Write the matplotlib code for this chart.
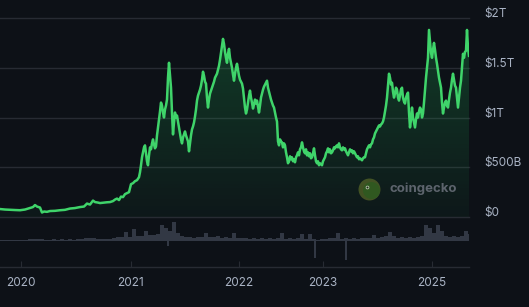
import numpy as np
import matplotlib
matplotlib.use("Agg")
import matplotlib.pyplot as plt
from matplotlib.colors import to_rgb
from matplotlib.transforms import blended_transform_factory, ScaledTranslation

# Market cap (billions of USD); x = position along the time axis
pos = [0, 5, 10, 15, 20, 25, 30, 33, 35, 37, 40, 42, 44, 47, 50, 55, 60, 65, 70, 75, 80, 84,
       87, 90, 93, 95, 98, 100, 104, 107, 110, 113, 115, 117, 119, 121, 123, 125, 127, 129,
       131, 133, 135, 137, 139] + list(range(140, 470))
mcap = [80, 75, 72, 70, 68, 75, 90, 100, 120, 105, 95, 45, 55, 52, 60, 62, 68, 72, 85, 90, 100, 105,
        135, 125, 165, 150, 145, 140, 145, 148, 150, 160, 175, 185, 170, 205, 200, 230, 240, 250,
        330, 340, 360, 370, 400,
        # 140 - 199
        450, 520, 600, 650, 700, 720, 640, 560, 520, 620, 700, 680, 740, 780, 730, 690, 710, 820, 900, 980,
        1060, 1150, 1120, 1050, 1000, 1080, 1120, 1180, 1400, 1550, 1420, 1300, 1050, 830, 950, 1050, 1000, 1020, 960, 900,
        840, 780, 740, 800, 830, 860, 820, 790, 760, 660, 740, 820, 880, 910, 950, 1010, 1080, 1170, 1220, 1250,
        # 200 - 259
        1280, 1320, 1380, 1460, 1420, 1360, 1340, 1200, 1100, 1180, 1240, 1270, 1300, 1330, 1360, 1400, 1420, 1440, 1480, 1520,
        1580, 1650, 1720, 1790, 1740, 1660, 1600, 1550, 1640, 1690, 1600, 1550, 1500, 1430, 1370, 1440, 1500, 1540, 1480, 1420,
        1380, 1360, 1340, 1290, 1200, 1100, 1040, 1080, 1150, 1220, 1270, 1200, 1150, 1090, 1130, 1180, 1140, 1170, 1110, 1050,
        # 260 - 319
        1120, 1200, 1240, 1280, 1310, 1330, 1350, 1370, 1300, 1260, 1220, 1180, 1150, 1120, 1100, 1050, 1000, 960, 760, 720,
        780, 760, 750, 700, 740, 720, 650, 600, 540, 560, 610, 580, 600, 560, 580, 550, 600, 620, 650, 620,
        680, 700, 750, 700, 660, 640, 680, 620, 650, 610, 640, 590, 600, 640, 690, 620, 560, 540, 560, 520,
        # 320 - 379
        540, 530, 520, 560, 580, 600, 640, 660, 690, 650, 680, 640, 650, 670, 700, 690, 710, 720, 700, 740,
        700, 680, 670, 700, 680, 690, 660, 640, 620, 650, 680, 660, 670, 640, 660, 640, 620, 600, 610, 580,
        590, 580, 570, 590, 600, 600, 640, 680, 700, 720, 700, 730, 740, 780, 800, 840, 860, 880, 900, 920,
        # 380 - 439
        910, 930, 940, 960, 1000, 1060, 1120, 1200, 1320, 1440, 1400, 1330, 1350, 1260, 1200, 1240, 1300, 1280, 1200, 1170,
        1220, 1280, 1300, 1200, 1160, 1140, 1200, 1230, 1250, 1050, 900, 980, 1100, 1000, 950, 900, 980, 1040, 1000, 1060,
        1100, 1080, 1000, 1040, 1150, 1280, 1400, 1500, 1600, 1880, 1760, 1650, 1600, 1680, 1750, 1680, 1600, 1540, 1470, 1400,
        # 440 - 469
        1350, 1300, 1150, 1040, 1100, 1150, 1170, 1120, 1100, 1180, 1250, 1300, 1380, 1440, 1380, 1320, 1300, 1200, 1100, 1200,
        1300, 1370, 1500, 1640, 1600, 1660, 1670, 1880, 1700, 1620]

# Volume strip (billions), every 4 positions
vol_pos = list(range(0, 469, 4))
vol = [5, 5, 5, 5, 5, 5, 5, 10, 10, 10, 10, 5,
       5, 10, 5, 10, 5, 10, 5, 10, 10, 15, 15, 15, 10,
       10, 10, 10, 15, 20, 20, 45, 20, 60, 25, 25, 50, 30, 30, 35, 80, 65, 50, 95, 40,
       25, 20, 20, 15, 20, 20, 40, 20, 20, 25, 15, 20, 15, 40, 15, 15, 15, 10, 15, 10,
       15, 10, 15, 10, 15, 40, 10, 15, 10, 15, 35, 10, 35, 10, 5, 10, 10, 15, 15, 40,
       10, 15, 10, 15, 10, 15, 15, 15, 30, 15, 20, 25, 45, 25, 15, 20, 15, 20, 15, 20,
       25, 80, 65, 40, 80, 50, 25, 20, 25, 20, 25, 50, 35]
dip_pos = [168, 315, 346]
dip = [-25, -85, -95]

years = ["2020", "2021", "2022", "2023", "2025"]
year_pos = [21, 131, 239, 323, 432]
mcap_ticks = [0, 500, 1000, 1500, 2000]
mcap_labels = ["$0", "$500B", "$1T", "$1.5T", "$2T"]

bg = "#0d1117"
grid = "#272b33"
text = "#a9b3c4"
green = "#3fd46a"

plt.rcParams["font.family"] = ["Inter", "DejaVu Sans"]

fig = plt.figure(figsize=(5.29, 3.07), dpi=100, facecolor=bg)
ax = fig.add_axes([0, 90 / 307, 469 / 529, 217 / 307])
axv = fig.add_axes([0, 40 / 307, 469 / 529, 50 / 307])
for a in (ax, axv):
    a.set_facecolor("none")
    for s in a.spines.values():
        s.set_visible(False)

# gradient fill under the line
n = 256
rgba = np.zeros((n, 1, 4))
rgba[..., :3] = to_rgb("#22c55e")
rgba[..., 3] = np.linspace(0.04, 0.24, n).reshape(-1, 1)
im = ax.imshow(rgba, extent=(0, pos[-1], 0, max(mcap)), origin="lower", aspect="auto", zorder=1)
poly = ax.fill_between(pos, mcap, 0, color="none", lw=0)
im.set_clip_path(poly.get_paths()[0], transform=ax.transData)

ax.plot(pos, mcap, color=green, lw=1.8, zorder=3, solid_joinstyle="round")

ax.set_xlim(0, 469)
ax.set_ylim(0, 2000 * 217 / 199)
ax.set_xticks([])
ax.set_yticks([])
for v in mcap_ticks:
    ax.axhline(v, color=grid, lw=1, zorder=0, clip_on=False)

tr = blended_transform_factory(ax.transAxes, ax.transData) + ScaledTranslation(0, 0.04, fig.dpi_scale_trans)
for v, lab in zip(mcap_ticks, mcap_labels):
    ax.text(484 / 469, v, lab, transform=tr, color=text, fontsize=8.5, va="center", ha="left")

# watermark
ax.scatter([369], [280], s=250, color="#66762a", alpha=0.6, zorder=2, lw=0)
ax.scatter([370.5], [272], s=150, color="#2d5a20", alpha=0.85, zorder=2, lw=0)
ax.scatter([366.5], [298], s=7, color="#d9e0cc", alpha=0.8, zorder=2, lw=0)
ax.scatter([366.8], [298], s=2, color="#1d2a14", zorder=2, lw=0)
ax.text(389, 280, "coingecko", color="#5d646d", fontsize=9.5, fontweight="bold",
        va="center", ha="left", zorder=2)

# volume strip
axv.bar(vol_pos, vol, width=4, align="edge", color="#323844", lw=0)
axv.bar(dip_pos, dip, width=1.5, color="#323844", lw=0)
axv.set_xlim(0, 469)
axv.set_ylim(-130, 120)
axv.set_yticks([])
axv.axhline(-130, color=grid, lw=1, clip_on=False)
axv.set_xticks(year_pos)
axv.set_xticklabels(years)
axv.tick_params(axis="x", direction="in", length=4, color=grid, colors=text, labelsize=8.5, pad=7)
for t in axv.get_xticklabels():
    t.set_color(text)

fig.savefig("out.png", dpi=100, facecolor=bg)
